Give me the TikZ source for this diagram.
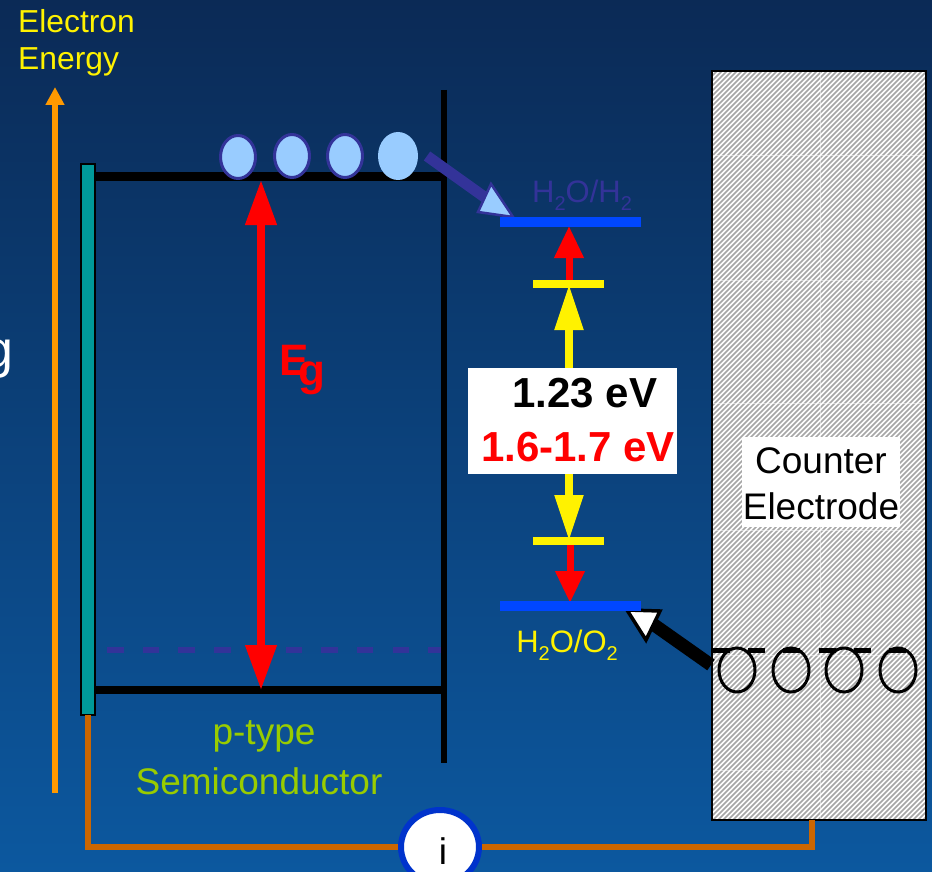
\documentclass[tikz,border=0pt]{standalone}
\usepackage{fontspec}
\setmainfont{Liberation Sans}
\usetikzlibrary{arrows.meta,shapes.geometric}
\definecolor{bgtop}{HTML}{0B2A56}
\definecolor{bgbot}{HTML}{0C589F}
\definecolor{deep}{HTML}{333399}
\definecolor{sky}{HTML}{99CCFF}
\definecolor{level}{HTML}{0047FF}
\definecolor{wire}{HTML}{CC6600}
\definecolor{axis}{HTML}{FF9900}
\definecolor{teal2}{HTML}{009999}
\definecolor{lime}{HTML}{99CC00}
\definecolor{ring}{HTML}{0033CC}
\newcommand{\lowsub}[1]{\raisebox{-0.28em}{\fontsize{20}{20}\selectfont #1}}
\tikzset{
  txt/.style={inner sep=0pt,align=center,font=\fontsize{#1}{#1}\selectfont},
  btxt/.style={inner sep=0pt,align=center,font=\fontsize{#1}{#1}\selectfont\bfseries},
  electron/.style={ellipse,draw=deep,line width=3pt,fill=sky,minimum width=35pt,minimum height=43pt,inner sep=0pt},
  hole/.style={ellipse,draw=black,line width=3pt,minimum width=36pt,minimum height=44pt,inner sep=0pt},
  band/.style={line width=8.5pt,black},
  lev/.style={line width=10pt,level},
  tick/.style={line width=8pt,yellow},
  redhead/.style={-{Triangle[length=#1,width=28pt]},line width=7pt,red},
  yelhead/.style={-{Triangle[length=#1,width=27pt]},line width=8pt,yellow},
  wireline/.style={line width=6pt,wire,line join=miter},
}
\begin{document}
\begin{tikzpicture}[x=1pt,y=-1pt]
\useasboundingbox (0,0) rectangle (932,872);
\shade[top color=bgtop,bottom color=bgbot] (0,0) rectangle (932,872);
\clip (0,0) rectangle (932,872);

% coordinates
\coordinate (axisB) at (55,793);
\coordinate (axisT) at (55,87);
\coordinate (cbL) at (95,176.5);
\coordinate (cbR) at (444,176.5);
\coordinate (vbL) at (95,690);
\coordinate (vbR) at (444,690);
\coordinate (wallT) at (444,90);
\coordinate (wallB) at (444,763);
\coordinate (egT) at (261,180);
\coordinate (egB) at (261,690);
\coordinate (dashL) at (107,650);
\coordinate (dashR) at (441,650);
\coordinate (hL) at (500,222);
\coordinate (hR) at (641,222);
\coordinate (oL) at (500,606);
\coordinate (oR) at (641,606);
\coordinate (tkTL) at (533,284);
\coordinate (tkTR) at (604,284);
\coordinate (tkBL) at (533,541);
\coordinate (tkBR) at (604,541);

% hanging letter at the left edge
\node[txt=52,text=white,anchor=base east] (gcut) at (14,367) {g};

% axis
\node[txt=31.8,text=yellow,anchor=base west] (etitle1) at (18,33) {Electron};
\node[txt=31.8,text=yellow,anchor=base west] (etitle2) at (18,70) {Energy};
\draw[-{Triangle[length=18pt,width=18pt]},line width=6pt,axis] (axisB) -- (axisT);

% semiconductor
\draw[line width=6pt] (wallT) -- (wallB);
\draw[band] (cbL) -- (cbR);
\draw[band] (vbL) -- (vbR);
\draw[line width=5.5pt,deep,dash pattern=on 16.5pt off 19.2pt] (dashL) -- (dashR);
\draw[line width=2.5pt,fill=teal2] (81,164) rectangle (95,715);
\coordinate (contact) at (88,715);

% electrons
\node[electron] (e1) at (238,157) {};
\node[electron] (e2) at (292,156) {};
\node[electron] (e3) at (345,156) {};
\node[electron,draw=none,minimum width=40pt,minimum height=48pt] (e4) at (398,156) {};

% band gap
\draw[{Triangle[length=45pt,width=30pt]}-{Triangle[length=45pt,width=30pt]},line width=7.5pt,red] (egT) -- (egB);
\node[btxt=44,text=red,anchor=base west] (eE) at (279,375) {E};
\node[btxt=44,text=red,anchor=base west] (eg) at (298,385) {g};

\node[txt=37,text=lime,anchor=base] (ptype) at (264,744) {p-type};
\node[txt=37,text=lime,anchor=base] (semi) at (259,794) {Semiconductor};

% transfer arrow (electrons)
\coordinate (ta) at (427,156);
\coordinate (tb) at (490,201);
\coordinate (t1) at (513,217);
\coordinate (t2) at (491,184);
\coordinate (t3) at (478,212);
\draw[line width=11pt,deep] (ta) -- (tb);
\draw[line width=2.5pt,deep,fill=sky,line join=miter] (t1) -- (t2) -- (t3) -- cycle;

% levels
\node[txt=31,text=deep,anchor=base] (h2) at (582,202) {H\lowsub{2}O/H\lowsub{2}};
\node[txt=31,text=yellow,anchor=base] (o2) at (567,652) {H\lowsub{2}O/O\lowsub{2}};

% energies
\draw[redhead=32pt] (569,286) -- (569,226);
\draw[redhead=32pt] (570,543) -- (570,603);
\draw[yelhead=46pt] (569,375) -- (569,284);
\draw[yelhead=46pt] (569,465) -- (569,541);
\draw[tick] (tkTL) -- (tkTR);
\draw[tick] (tkBL) -- (tkBR);
\fill[white] (468,368) rectangle (677,474);
\node[btxt=42,text=black] (v1) at (585,393) {1.23 eV};
\node[btxt=42,text=red] (v2) at (578,447) {1.6-1.7 eV};

% counter electrode
\begin{scope}
\fill[white] (712,71) rectangle (926,820);
\clip (712,71) rectangle (926,820);
\foreach \k in {0,5,...,985}{
  \draw[line width=1.5pt,black!35] (712+\k-749,820) -- (712+\k,71);
}
\foreach \yy in {155,280,403,530,655,770}{
  \draw[line width=.5pt,white,opacity=.5] (712,\yy) -- (926,\yy);
}
\draw[line width=.5pt,white,opacity=.5] (820,71) -- (820,820);
\end{scope}
\draw[line width=2.5pt] (712,71) rectangle (926,820);
\node[fill=white,minimum width=158pt,minimum height=90pt,inner sep=0pt] (celbox) at (821,482) {};
\node[txt=37,text=black] (c1) at (821,461) {Counter};
\node[txt=37,text=black] (c2) at (821,506) {Electrode};

% holes
\node[hole] (h1) at (737,670) {};
\node[hole] (h2b) at (791,670) {};
\node[hole] (h3) at (844,670) {};
\node[hole] (h4) at (898,670) {};
\coordinate (dshL) at (713,650);
\coordinate (dshR) at (908,650);
\draw[line width=5pt,dash pattern=on 17pt off 18.2pt] (dshL) -- (dshR);

% transfer arrow (holes)
\coordinate (ua) at (711,665);
\coordinate (ub) at (650,622);
\coordinate (u1) at (627,610);
\coordinate (u2) at (660,611);
\coordinate (u3) at (646,640);
\draw[line width=13pt] (ua) -- (ub);
\draw[line width=3.5pt,fill=white,line join=miter] (u1) -- (u2) -- (u3) -- cycle;

\draw[lev] (hL) -- (hR);
\draw[lev] (oL) -- (oR);

% external circuit
\node[ellipse,draw=ring,line width=6pt,fill=white,minimum width=78pt,minimum height=74pt,inner sep=0pt] (meter) at (440,847) {};
\node[txt=37,text=black] (icur) at (443,851) {i};
\coordinate (wire3) at (812,820);
\draw[wireline] (contact) -- (contact|-meter.west) -- (meter.west);
\draw[wireline] (meter.east) -- (wire3|-meter.east) -- (wire3);
\end{tikzpicture}
\end{document}
